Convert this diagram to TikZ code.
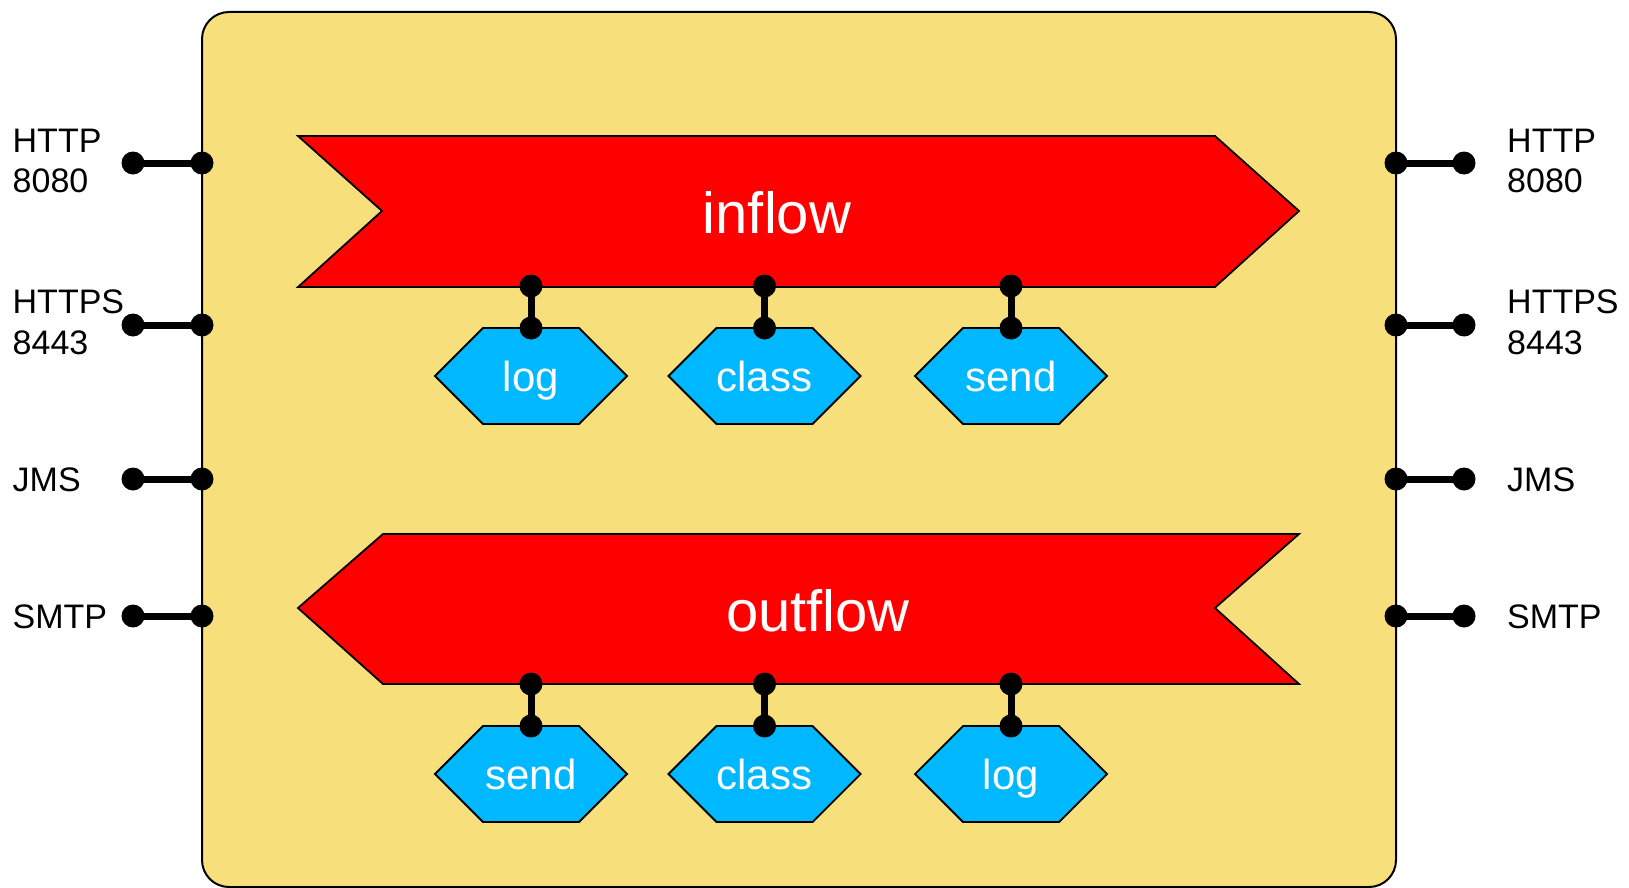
\documentclass[tikz,border=0pt]{standalone}
\usepackage{fontspec}
\setmainfont{Liberation Sans}
\definecolor{boxyellow}{HTML}{F7E07C}
\definecolor{flowred}{HTML}{FF0000}
\definecolor{hexblue}{HTML}{00B8FF}
\tikzset{
  container/.style={draw=black, line width=2pt, fill=boxyellow, rounded corners=27pt},
  flowshape/.style={draw=black, line width=1.8pt, fill=flowred, line join=miter},
  hexshape/.style={draw=black, line width=1.8pt, fill=hexblue},
  wire/.style={draw=black, line width=7pt},
  dot/.style={fill=black},
  portlabel/.style={inner sep=0pt, anchor=base west, font=\fontsize{34}{40}\selectfont},
  flowlabel/.style={inner sep=0pt, anchor=base, text=white, font=\fontsize{58}{66}\selectfont},
  hexlabel/.style={inner sep=0pt, anchor=base, text=white, font=\fontsize{42}{48}\selectfont},
}
\newcommand{\hexat}[3]{% name, cx, cy
  \draw[hexshape] (#2-96,#3) -- (#2-48,#3-48) -- (#2+48,#3-48) -- (#2+96,#3) -- (#2+48,#3+48) -- (#2-48,#3+48) -- cycle;
  \coordinate (#1top) at (#2,#3-48);
}
\begin{document}
\begin{tikzpicture}[x=1pt,y=-1pt]
\useasboundingbox (0,0) rectangle (1629,888);
% container
\draw[container] (202,12) rectangle (1396,887);
% flows
\draw[flowshape] (298,136) -- (1215,136) -- (1299,211) -- (1215,287) -- (298,287) -- (382,211) -- cycle;
\draw[flowshape] (383,534) -- (1299,534) -- (1215,608) -- (1299,684) -- (383,684) -- (298,608) -- cycle;
\node[flowlabel] (inflow) at (777,233) {inflow};
\node[flowlabel] (outflow) at (818,631) {outflow};
% hexagons (inflow)
\hexat{ilog}{531}{376}
\hexat{iclass}{764.5}{376}
\hexat{isend}{1011}{376}
\node[hexlabel] (ilogt) at (531,391.5) {log};
\node[hexlabel] (iclasst) at (764.5,391.5) {class};
\node[hexlabel] (isendt) at (1011,391.5) {send};
% hexagons (outflow)
\hexat{osend}{531}{774}
\hexat{oclass}{764.5}{774}
\hexat{olog}{1011}{774}
\node[hexlabel] (osendt) at (531,789.5) {send};
\node[hexlabel] (oclasst) at (764.5,789.5) {class};
\node[hexlabel] (ologt) at (1011,789.5) {log};
% flow ports
\coordinate (if1) at (531,286);
\coordinate (if2) at (764.5,286);
\coordinate (if3) at (1011,286);
\coordinate (of1) at (531,684);
\coordinate (of2) at (764.5,684);
\coordinate (of3) at (1011,684);
\foreach \a/\b in {if1/ilogtop, if2/iclasstop, if3/isendtop, of1/osendtop, of2/oclasstop, of3/ologtop}{
  \draw[wire] (\a) -- (\b);
  \fill[dot] (\a) circle (11.5);
  \fill[dot] (\b) circle (11.5);
}
% container ports
\foreach \n/\y in {http/163, https/325, jms/479, smtp/616}{
  \coordinate (L\n in) at (202,\y);
  \coordinate (L\n out) at (133,\y);
  \coordinate (R\n in) at (1396,\y);
  \coordinate (R\n out) at (1464,\y);
  \draw[wire] (L\n out) -- (L\n in);
  \draw[wire] (R\n in) -- (R\n out);
  \fill[dot] (L\n out) circle (11.5);
  \fill[dot] (L\n in) circle (11.5);
  \fill[dot] (R\n in) circle (11.5);
  \fill[dot] (R\n out) circle (11.5);
}
% labels left
\node[portlabel] (lhttp) at (12.5,152) {HTTP};
\node[portlabel] (lhttpn) at (12.5,192) {8080};
\node[portlabel] (lhttps) at (12.5,313) {HTTPS};
\node[portlabel] (lhttpsn) at (12.5,354) {8443};
\node[portlabel] (ljms) at (12.5,491) {JMS};
\node[portlabel] (lsmtp) at (12.5,628) {SMTP};
% labels right
\node[portlabel] (rhttp) at (1507,152) {HTTP};
\node[portlabel] (rhttpn) at (1507,192) {8080};
\node[portlabel] (rhttps) at (1507,313) {HTTPS};
\node[portlabel] (rhttpsn) at (1507,354) {8443};
\node[portlabel] (rjms) at (1507,491) {JMS};
\node[portlabel] (rsmtp) at (1507,628) {SMTP};
\end{tikzpicture}
\end{document}
